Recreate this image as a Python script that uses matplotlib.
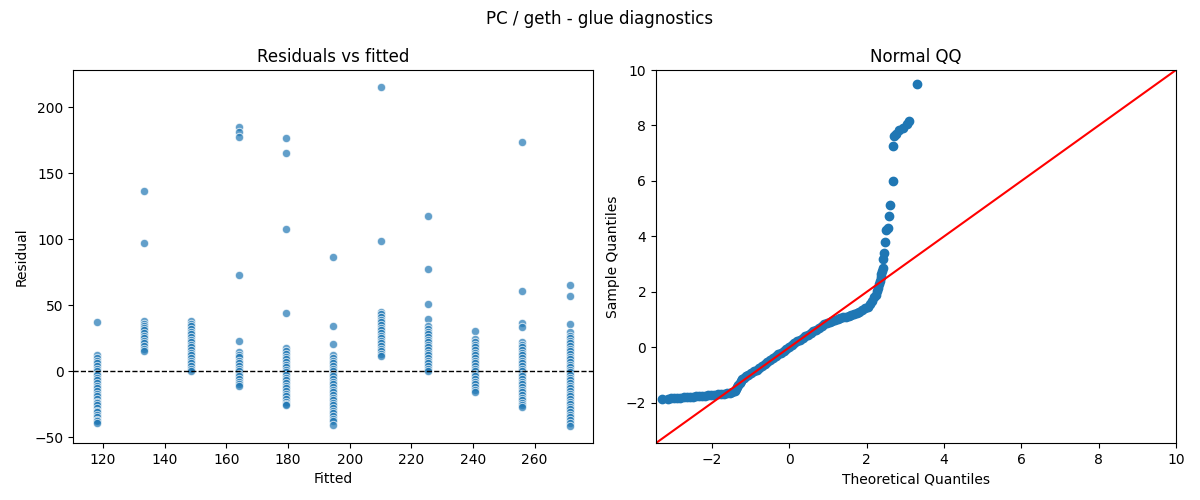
import matplotlib
matplotlib.use("Agg")
import matplotlib.pyplot as plt
import numpy as np

# fitted value levels (one column of points per level)
fitted_levels = [118.0, 133.3, 148.7, 164.0, 179.3, 194.6, 210.0, 225.3, 240.6, 256.0, 271.3]

# residuals
res_118 = [37, 12, 10, 8, 6, 4, 2, 0, -2, -3, -5, -7, -9, -11, -13, -15, -17, -19,
           -21, -23, -24, -26, -28, -30, -31, -33, -35, -37, -38, -39]
res_133 = [136.5, 97, 38, 36, 34, 33, 31, 29, 27, 25, 23, 21, 19, 17, 15]
res_149 = [38, 36, 34, 32, 30, 28, 26, 24, 22, 20, 18, 16, 14, 12, 10, 8, 6, 4, 2, 0.5]
res_164 = [185.3, 181.3, 177.5, 72.9, 22.7, 14.6, 12.5, 10.5, 8, 6, 4, 2, 0, -2, -4,
           -6, -8, -10, -11.5]
res_179 = [176.7, 165.3, 107.6, 44, 17.6, 15, 13, 11, 9, 7, 5, 3, 1, -1, -3, -5, -7,
           -9, -11, -13, -15, -17, -19, -21, -23, -25, -26]
res_195 = [86.6, 34, 20.4, 12, 10, 8, 6, 4, 2, 0, -2, -4, -6, -8, -10, -12, -14, -16,
           -18, -20, -22, -24, -26, -28, -30, -32, -34, -36, -38, -40.5]
res_210 = [215.5, 98.7, 45, 43, 41, 39, 37, 35, 33, 31, 29, 27, 25, 23, 21, 19, 17,
           15, 13, 11.6]
res_225 = [117.7, 77.4, 50.6, 39.4, 34.4, 32, 30, 28, 26, 24, 22, 20, 18, 16, 14, 12,
           10, 8, 6, 4, 2, 0]
res_241 = [30.3, 24.7, 22, 20, 18, 16, 14, 12, 10, 8, 6, 4, 2, 0, -2, -4, -6, -8, -10,
           -12, -14, -15.8]
res_256 = [173.5, 60.7, 36.9, 33.5, 22.2, 20, 18, 16, 14, 12, 10, 8, 6, 4, 2, 0, -2,
           -4, -6, -8, -10, -12, -14, -16, -18, -20, -22, -24, -26, -27.2]
res_271 = [65, 56.9, 35.6, 29.8, 27, 25, 23, 21, 19, 17, 15, 13, 11, 9, 7, 5, 3, 1,
           -1, -3, -5, -7, -9, -11, -13, -15, -17, -19, -21, -23, -25, -27, -29, -31,
           -33, -35, -37, -39, -41.6]

residual_groups = [res_118, res_133, res_149, res_164, res_179, res_195,
                   res_210, res_225, res_241, res_256, res_271]

# QQ points
qq_theoretical = [
    -3.29, -3.15, -3.06, -2.98, -2.90, -2.82, -2.74, -2.66, -2.58, -2.50, -2.42, -2.34,
    -2.26, -2.18, -2.10, -2.02, -1.94, -1.86, -1.78, -1.70, -1.62, -1.55, -1.48,
    -1.42, -1.38, -1.35, -1.32, -1.29, -1.26, -1.22, -1.18, -1.13,
    -1.06, -0.99, -0.92, -0.85, -0.78, -0.71, -0.64, -0.57, -0.50, -0.43, -0.36, -0.29,
    -0.22, -0.15, -0.08, -0.01,
    0.06, 0.13, 0.20, 0.27, 0.34, 0.41, 0.48, 0.55, 0.62, 0.69, 0.76, 0.83, 0.90, 0.97,
    1.04, 1.11, 1.18, 1.25, 1.32, 1.39, 1.46, 1.53, 1.60, 1.67, 1.74, 1.81, 1.88, 1.95,
    2.02, 2.08, 2.14, 2.19, 2.23, 2.27,
    2.30, 2.32, 2.34, 2.36, 2.38, 2.40, 2.41, 2.43, 2.45,
    2.48, 2.51, 2.54, 2.58, 2.61, 2.67, 2.69, 2.71, 2.76, 2.84, 2.93, 3.03, 3.10, 3.29]
qq_sample = [
    -1.88, -1.85, -1.84, -1.83, -1.82, -1.81, -1.80, -1.80, -1.79, -1.78, -1.77, -1.76,
    -1.75, -1.74, -1.73, -1.72, -1.71, -1.70, -1.69, -1.67, -1.65, -1.63, -1.60,
    -1.56, -1.50, -1.43, -1.36, -1.29, -1.22, -1.15, -1.09, -1.03,
    -0.98, -0.92, -0.86, -0.82, -0.74, -0.66, -0.59, -0.52, -0.46, -0.40, -0.32, -0.25,
    -0.20, -0.14, -0.07, 0.00,
    0.07, 0.14, 0.21, 0.28, 0.34, 0.40, 0.46, 0.52, 0.58, 0.64, 0.71, 0.78, 0.84, 0.89,
    0.93, 0.96, 0.99, 1.02, 1.05, 1.08, 1.11, 1.14, 1.17, 1.21, 1.25, 1.29, 1.36, 1.41,
    1.47, 1.56, 1.68, 1.80, 1.90, 2.02,
    2.15, 2.28, 2.40, 2.52, 2.64, 2.74, 2.85, 3.19, 3.40,
    3.78, 4.22, 4.31, 4.72, 5.14, 6.01, 7.25, 7.61, 7.70, 7.82, 7.92, 8.04, 8.15, 9.48]

fig, (ax1, ax2) = plt.subplots(1, 2, figsize=(12, 5), dpi=100)
fig.subplots_adjust(left=0.061, right=0.98, top=0.86, bottom=0.114, wspace=0.121)

# residuals vs fitted
fx = np.concatenate([[f] * len(r) for f, r in zip(fitted_levels, residual_groups)])
fy = np.concatenate(residual_groups)
ax1.scatter(fx, fy, s=36, color="C0", alpha=0.7, edgecolor="white", linewidth=0.75)
ax1.axhline(0, color="black", linestyle="--", linewidth=1)
ax1.set_title("Residuals vs fitted")
ax1.set_xlabel("Fitted")
ax1.set_ylabel("Residual")

# normal QQ
ax2.plot(qq_theoretical, qq_sample, "o", color="C0", markersize=6)
lo, hi = -3.45, 10.0
ax2.plot([lo, hi], [lo, hi], "r-")
ax2.set_xlim(lo, hi)
ax2.set_ylim(lo, hi)
ax2.set_title("Normal QQ")
ax2.set_xlabel("Theoretical Quantiles")
ax2.set_ylabel("Sample Quantiles")

fig.suptitle("PC / geth - glue diagnostics")
fig.savefig("out.png")
